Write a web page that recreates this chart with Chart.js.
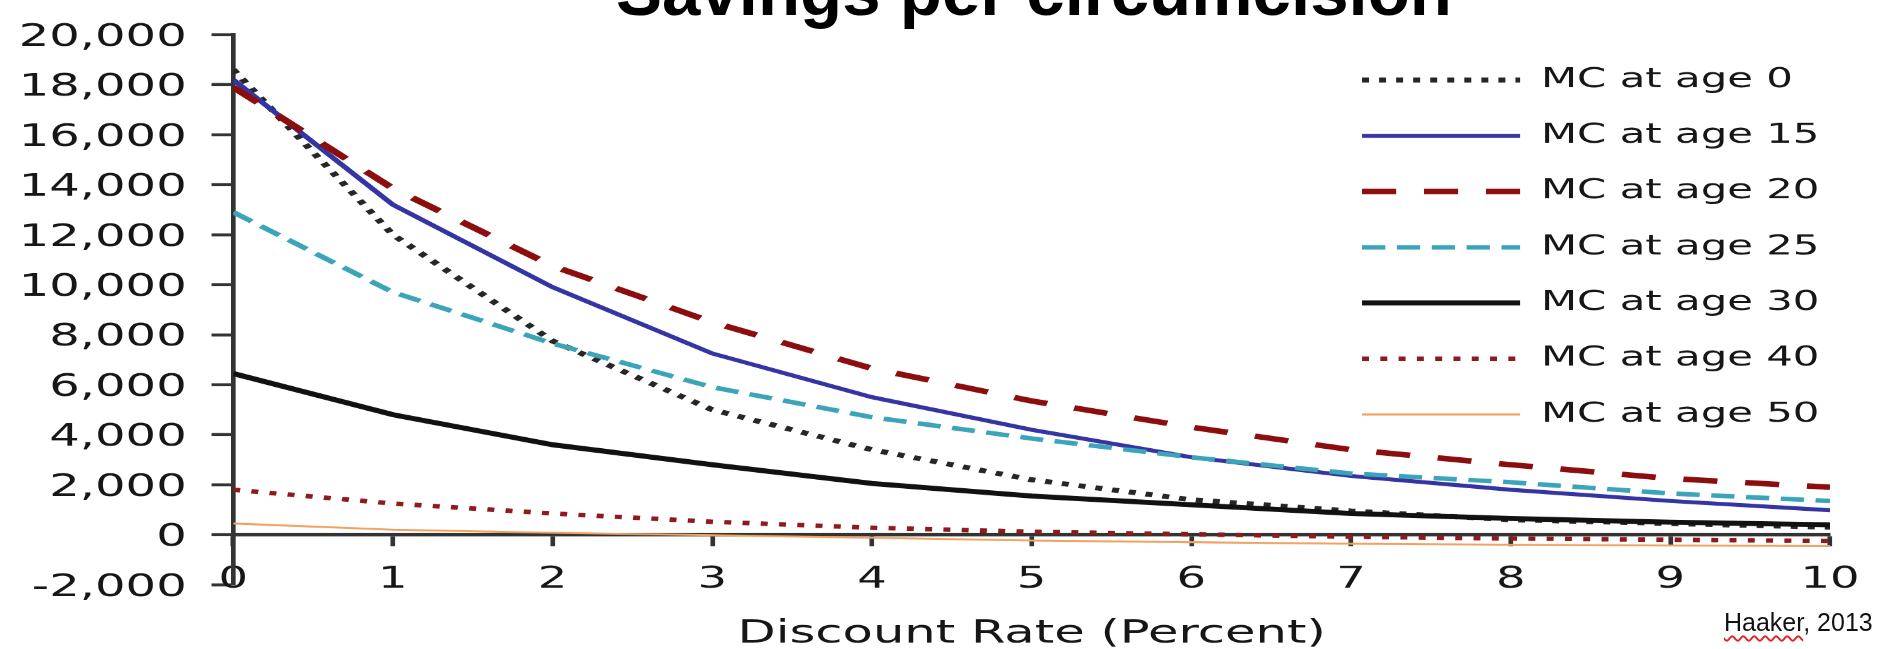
<!DOCTYPE html>
<html>
<head>
<meta charset="utf-8">
<title>Savings per circumcision</title>
<script src="https://cdn.jsdelivr.net/npm/chart.js@4.4.1/dist/chart.umd.min.js"></script>
<style>
  html, body { margin: 0; padding: 0; background: #fff; width: 1886px; height: 649px; overflow: hidden; }
  /* the chart is laid out narrow and widened horizontally */
  #plot { position: absolute; left: 0; top: 0; width: 1217px; height: 649px;
          transform: scaleX(1.5497); transform-origin: 0 0; }
  #title { position: absolute; left: 616px; top: -43px; white-space: nowrap;
           font: bold 69px/69px "Liberation Sans", Arial, sans-serif; color: #000; }
  #credit { position: absolute; left: 1724px; top: 610px; white-space: nowrap;
            font: 25px/25px "Liberation Sans", Arial, sans-serif; color: #111; }
  #credit .sq { text-decoration: underline wavy #e02020; text-decoration-thickness: 1.5px;
                text-underline-offset: 4px; }
</style>
</head>
<body>
<div id="plot"><canvas id="chart"></canvas></div>
<div id="title">Savings per circumcision</div>
<div id="credit"><span class="sq">Haaker</span>, 2013</div>
<script>
// Discount rate (percent) on the x axis
const discountRates = [0, 1, 2, 3, 4, 5, 6, 7, 8, 9, 10];

// Series names
const seriesNames = ['MC at age 0', 'MC at age 15', 'MC at age 20', 'MC at age 25',
                     'MC at age 30', 'MC at age 40', 'MC at age 50'];

// Savings per circumcision for each age at circumcision
const mcAge0  = [18600, 12000, 7750, 5000, 3400, 2200, 1400, 950, 600, 450, 300];
const mcAge15 = [18200, 13200, 9900, 7250, 5500, 4200, 3100, 2350, 1800, 1350, 980];
const mcAge20 = [17900, 13850, 10750, 8500, 6650, 5350, 4300, 3400, 2800, 2250, 1900];
const mcAge25 = [12900, 9700, 7650, 5900, 4700, 3850, 3100, 2450, 2100, 1650, 1350];
const mcAge30 = [6450, 4800, 3600, 2800, 2050, 1550, 1200, 850, 650, 500, 400];
const mcAge40 = [1800, 1250, 850, 520, 280, 120, 20, -80, -150, -200, -250];
const mcAge50 = [450, 200, 80, -20, -120, -230, -300, -360, -400, -430, -450];

// Axis range and tick spacing
const yMin = -2000, yMax = 20000, yStep = 2000;
const xMin = 0, xMax = 10, xStep = 1;

const seriesValues = [mcAge0, mcAge15, mcAge20, mcAge25, mcAge30, mcAge40, mcAge50];

const seriesStyles = [
  { color: '#262626', width: 5,   dash: [4.5, 6.5] },
  { color: '#3434a2', width: 4,   dash: [] },
  { color: '#8c0d0d', width: 5.5, dash: [22, 18] },
  { color: '#3ba4b9', width: 4.5, dash: [15, 7.5] },
  { color: '#111111', width: 5,   dash: [] },
  { color: '#8e1a1e', width: 4.5, dash: [4.5, 7.3] },
  { color: '#f0a262', width: 2,   dash: [] }
];

const datasets = seriesNames.map((name, i) => ({
  label: name,
  data: discountRates.map((r, j) => ({ x: r, y: seriesValues[i][j] })),
  borderColor: seriesStyles[i].color,
  backgroundColor: seriesStyles[i].color,
  borderWidth: seriesStyles[i].width,
  borderDash: seriesStyles[i].dash,
  borderCapStyle: 'butt',
  pointRadius: 0,
  pointHoverRadius: 0,
  tension: 0,
  fill: false,
  order: seriesNames.length - i
}));

const FONT = 'DejaVu Sans';
const INK = '#161616';
const AXIS = '#333';

// Places the legend block inside the upper right of the plot
const legendPlacement = {
  id: 'legendPlacement',
  afterLayout(chart) {
    const lg = chart.legend;
    if (!lg) return;
    const h = lg.height;
    lg.left = 850.2;
    lg.top = 37.8;
    lg.right = lg.left + lg.width;
    lg.bottom = lg.top + h;
  }
};

// Legend samples carry each line's own dash pattern and width
function legendItems(chart) {
  const base = Chart.defaults.plugins.legend.labels.generateLabels(chart);
  return base.map(item => {
    const ds = chart.data.datasets[item.datasetIndex];
    return Object.assign(item, {
      lineDash: ds.borderDash,
      lineWidth: ds.borderWidth,
      strokeStyle: ds.borderColor,
      fillStyle: ds.borderColor,
      lineCap: 'butt',
      pointStyle: 'line'
    });
  });
}

new Chart(document.getElementById('chart'), {
  type: 'line',
  data: { datasets },
  plugins: [legendPlacement],
  options: {
    responsive: true,
    maintainAspectRatio: false,
    devicePixelRatio: 1.5497,
    animation: false,
    locale: 'en-US',
    layout: { padding: { left: 0, top: 23.3, right: 28.4, bottom: 64.7 } },
    plugins: {
      title: { display: false },
      tooltip: { enabled: false },
      legend: {
        position: 'chartArea',
        align: 'start',
        labels: {
          usePointStyle: true,
          pointStyle: 'line',
          pointStyleWidth: 102,
          padding: 28.7,
          color: INK,
          font: { family: FONT, size: 27 },
          generateLabels: legendItems,
          sort: (a, b) => a.datasetIndex - b.datasetIndex
        }
      }
    },
    scales: {
      x: {
        type: 'linear',
        position: { y: 0 },
        min: xMin,
        max: xMax,
        border: { display: true, color: AXIS, width: 3.5 },
        grid: { drawOnChartArea: false, drawTicks: true, tickLength: 10, tickWidth: 3, tickColor: AXIS },
        ticks: { stepSize: xStep, padding: 17, color: INK, font: { family: FONT, size: 30 } },
        title: {
          display: true,
          text: 'Discount Rate (Percent)',
          color: INK,
          font: { family: FONT, size: 32 },
          padding: { top: 0, bottom: 0 }
        }
      },
      y: {
        type: 'linear',
        position: 'left',
        min: yMin,
        max: yMax,
        afterFit(scale) { scale.width = 150.5; },
        border: { display: true, color: AXIS, width: 3 },
        grid: { drawOnChartArea: false, drawTicks: true, tickLength: 14, tickWidth: 3, tickColor: AXIS },
        ticks: { stepSize: yStep, padding: 16, labelOffset: 3, color: INK, font: { family: FONT, size: 31 } }
      }
    }
  }
});
</script>
</body>
</html>
